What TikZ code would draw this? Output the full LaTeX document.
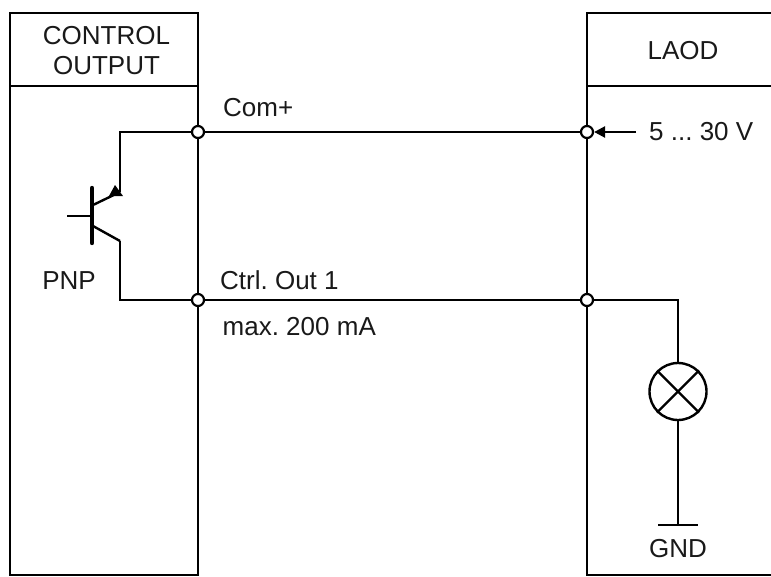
\documentclass[tikz,border=0pt]{standalone}
\usepackage{fontspec}
\setmainfont{Liberation Sans}
\usetikzlibrary{positioning, arrows.meta}
\frenchspacing

\begin{document}
\begin{tikzpicture}[x=1pt, y=-1pt, line width=2.4pt,
  label node/.style={font=\fontsize{26}{30}\selectfont, inner sep=0pt, text=black!90, align=center},
  header node/.style={draw, line width=2.6pt, outer sep=0pt, minimum width=188pt, minimum height=73pt, inner sep=0pt},
  body node/.style={draw, line width=2.6pt, outer sep=0pt, minimum width=188pt, minimum height=489pt, inner sep=0pt},
  dot node/.style={circle, draw, fill=white, line width=2.2pt, minimum size=12pt, inner sep=0pt},
  lamp node/.style={circle, draw, minimum size=57pt, inner sep=0pt}]

\useasboundingbox (0,0) rectangle (771,576);

% left block
\node[header node] (ctrlhead) at (104,49.5) {};
\node[body node] (ctrlbody) [below=0pt of ctrlhead] {};
\node[label node] (ctrltext) at (106.5,51) {CONTROL\\OUTPUT};

% right block, open towards the edge
\coordinate (loadtl) at (587,13);
\coordinate (loadtr) at (771,13);
\coordinate (loadml) at (587,86);
\coordinate (loadmr) at (771,86);
\coordinate (loadbl) at (587,575);
\coordinate (loadbr) at (771,575);
\draw[line width=2.6pt] (loadtr) -- (loadtl) -- (loadbl) -- (loadbr);
\draw[line width=2.6pt] (loadml) -- (loadmr);
\node[label node] (loadtext) at (683,50.5) {LAOD};

% junctions
\node[dot node] (comL) at (198,132) {};
\node[dot node] (outL) at (198,300) {};
\node[dot node] (comR) at (587,132) {};
\node[dot node] (outR) at (587,300) {};

% transistor
\coordinate (barT) at (92,188);
\coordinate (barB) at (92,243);
\coordinate (base) at (67,216);
\coordinate (baseE) at (92,216);
\coordinate (emitB) at (93,205);
\coordinate (emit) at (120,192);
\coordinate (collB) at (93,226);
\coordinate (coll) at (120,241);
\coordinate (comC) at (120,132);
\coordinate (outC) at (120,300);
\draw[line width=4.4pt, line cap=round] (barT) -- (barB);
\draw (base) -- (baseE);
\draw (emitB) -- (emit);
\draw (collB) -- (coll);
\fill (115,185) -- (123,196) -- (109,196) -- cycle;
\draw[line join=miter] (emit) -- (comC) -- (comL);
\draw[line join=miter] (coll) -- (outC) -- (outL);

% wires
\draw (comL) -- (comR);
\draw (outL) -- (outR);

% supply
\node[label node, anchor=west] (volt) at (648,132) {5 ... 30 V};
\coordinate (voltend) at (636,132);
\draw[-{Triangle[length=11pt,width=11pt]}] (voltend) -- (comR);

% lamp and ground
\node[lamp node] (lamp) at (678,391.5) {};
\draw (lamp.45) -- (lamp.225);
\draw (lamp.135) -- (lamp.315);
\coordinate (outT) at (678,300);
\coordinate (gnd) at (678,525);
\coordinate (gndL) at (658,525);
\coordinate (gndR) at (698,525);
\draw (outR) -- (outT) -- (lamp);
\draw (lamp) -- (gnd);
\draw (gndL) -- (gndR);
\node[label node] (gndtext) at (678,549) {GND};

% labels
\node[label node, anchor=base west] (comtext) at (222,116.7) {Com+};
\node[label node, anchor=base west] (outtext) at (219,289) {Ctrl. Out 1};
\node[label node, anchor=base west] (maxtext) at (221.5,335) {max. 200 mA};
\node[label node] (pnptext) at (69,280.5) {PNP};

\end{tikzpicture}
\end{document}
